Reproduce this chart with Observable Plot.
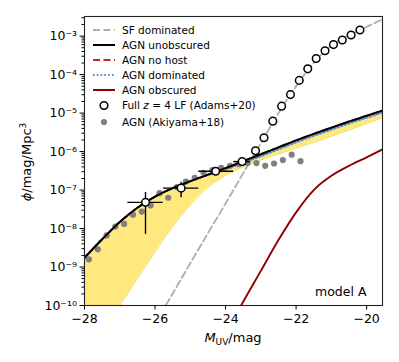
<!DOCTYPE html>
<html><head><meta charset="utf-8">
<script src="https://cdn.jsdelivr.net/npm/d3@7"></script>
<script src="https://cdn.jsdelivr.net/npm/@observablehq/plot@0.6"></script>
<style>body{margin:0;background:#fff}#chart{width:399px;height:362px}</style>
</head><body><div id="chart"></div>
<script>
// ---- tick values ----
const xTicks = [-28, -26, -24, -22, -20];
const yDecades = [-10, -9, -8, -7, -6, -5, -4, -3];

// ---- model curves (log10 phi) ----
const lineM      = [-28, -27.5, -27, -26.5, -26, -25.5, -25, -24.5, -24, -23.5, -23, -22.5, -22, -21.5, -21, -20.5, -20, -19.5];
const unobsLog   = [-8.76, -8.28, -7.83, -7.46, -7.17, -6.95, -6.77, -6.60, -6.43, -6.25, -6.07, -5.89, -5.71, -5.54, -5.38, -5.22, -5.07, -4.92];
const domLog     = [-8.76, -8.28, -7.83, -7.46, -7.17, -6.95, -6.77, -6.61, -6.46, -6.29, -6.12, -5.94, -5.76, -5.59, -5.43, -5.27, -5.12, -4.97];
const bandHiLog  = [-8.76, -8.28, -7.83, -7.46, -7.17, -6.95, -6.78, -6.62, -6.47, -6.30, -6.13, -5.96, -5.79, -5.62, -5.46, -5.30, -5.15, -5.00];
const bandLoLog  = [-11.46, -10.73, -10.0, -9.3, -8.6, -7.95, -7.38, -6.93, -6.62, -6.40, -6.22, -6.06, -5.91, -5.76, -5.60, -5.44, -5.27, -5.10];

const sfM   = [-26.0, -25.7, -25.0, -24.5, -24.0, -23.5, -23.0, -22.5, -22.0, -21.5, -21.0, -20.5, -20.0, -19.5];
const sfLog = [-10.45, -10.0, -8.9, -8.12, -7.35, -6.56, -5.78, -5.0, -4.3, -3.7, -3.25, -2.98, -2.76, -2.54];

const obsM   = [-23.8, -23.56, -23.0, -22.5, -22.0, -21.5, -21.0, -20.5, -20.0, -19.5];
const obsLog = [-10.4, -10.0, -9.1, -8.3, -7.58, -7.0, -6.63, -6.37, -6.15, -5.92];

// ---- observations ----
const adamsM   = [-26.27, -25.26, -24.28, -23.53, -23.15, -22.91, -22.66, -22.41, -22.16, -21.91, -21.67, -21.43, -21.18, -20.94, -20.69, -20.44, -20.19];
const adamsLog = [-7.32, -6.95, -6.51, -6.26, -5.98, -5.64, -5.21, -4.82, -4.52, -4.15, -3.85, -3.58, -3.38, -3.22, -3.10, -2.97, -2.84];
const errM     = [-26.27, -25.26, -24.28, -23.53];
const errLog   = [-7.32, -6.95, -6.51, -6.26];
const errXlo   = [-26.77, -25.76, -24.76, -23.77];
const errXhi   = [-25.77, -24.76, -23.77, -23.29];
const errYlo   = [-8.15, -7.20, -6.56, -6.29];
const errYhi   = [-7.06, -6.80, -6.46, -6.23];

const akiM   = [-27.875, -27.625, -27.375, -27.125, -26.875, -26.625, -26.375, -26.125, -25.875, -25.625, -25.375, -25.125, -24.875, -24.625, -24.375, -24.125, -23.875, -23.625, -23.375, -23.125, -22.875, -22.625, -22.375, -22.125, -21.875];
const akiLog = [-8.80, -8.54, -8.18, -7.95, -7.88, -7.64, -7.56, -7.40, -7.08, -7.20, -6.92, -6.78, -6.68, -6.55, -6.48, -6.42, -6.37, -6.33, -6.30, -6.30, -6.37, -6.31, -6.22, -6.08, -6.25];

// ---- tables ----
const p = v => Math.pow(10, v);
const curves = lineM.map((m, i) => ({M: m, unobs: p(unobsLog[i]), dom: p(domLog[i]), hi: p(bandHiLog[i]), lo: p(bandLoLog[i])}));
const sf = sfM.map((m, i) => ({M: m, phi: p(sfLog[i])}));
const obs = obsM.map((m, i) => ({M: m, phi: p(obsLog[i])}));
const adams = adamsM.map((m, i) => ({M: m, phi: p(adamsLog[i])}));
const errs = errM.map((m, i) => ({M: m, phi: p(errLog[i]), xlo: errXlo[i], xhi: errXhi[i], ylo: p(errYlo[i]), yhi: p(errYhi[i])}));
const aki = akiM.map((m, i) => ({M: m, phi: p(akiLog[i])}));

const supMap = {"-": "⁻", "0": "⁰", "1": "¹", "2": "²", "3": "³", "4": "⁴", "5": "⁵", "6": "⁶", "7": "⁷", "8": "⁸", "9": "⁹"};
const sup = n => String(n).split("").map(c => supMap[c]).join("");
const majorY = yDecades.map(p);
const minorY = [];
for (let e = -11; e <= -3; e++) for (let k = 2; k <= 9; k++) { const v = k * p(e); if (v >= 1e-10 && v <= p(-2.49)) minorY.push(v); }

const C = {sf: "#b0b0b0", unobs: "#000000", nohost: "#c0282d", dom: "#4a8fd0", obs: "#8f0000", band: "#ffe97f", bandEdge: "#f7d32c", aki: "#808080"};

const chart = Plot.plot({
  width: 399, height: 362,
  marginLeft: 84, marginRight: 17, marginTop: 16, marginBottom: 57,
  style: {fontFamily: "DejaVu Sans", fontSize: "12.5px", color: "black", background: "white", overflow: "visible"},
  x: {domain: [-28, -19.55]},
  y: {type: "log", domain: [1e-10, p(-2.49)]},
  marks: [
    Plot.areaY(curves, {x: "M", y1: "lo", y2: "hi", fill: C.band, clip: true, curve: "monotone-x"}),
    Plot.lineY(curves, {x: "M", y: "lo", stroke: C.bandEdge, strokeWidth: 0.9, clip: true, curve: "monotone-x"}),
    Plot.lineY(sf, {x: "M", y: "phi", stroke: C.sf, strokeWidth: 1.9, strokeDasharray: "7,3.5", clip: true, curve: "monotone-x"}),
    Plot.lineY(obs, {x: "M", y: "phi", stroke: C.obs, strokeWidth: 1.9, clip: true, curve: "monotone-x"}),
    Plot.lineY(curves, {x: "M", y: "dom", stroke: C.dom, strokeWidth: 2, strokeDasharray: "1.6,2.2", clip: true, curve: "monotone-x"}),
    Plot.lineY(curves, {x: "M", y: "unobs", stroke: C.nohost, strokeWidth: 1.9, strokeDasharray: "7,3.5", clip: true, curve: "monotone-x"}),
    Plot.dot(aki, {x: "M", y: "phi", r: 3.1, fill: C.aki, stroke: "none"}),
    Plot.lineY(curves, {x: "M", y: "unobs", stroke: C.unobs, strokeWidth: 2, clip: true, curve: "monotone-x"}),
    Plot.ruleY(errs, {y: "phi", x1: "xlo", x2: "xhi", stroke: "black", strokeWidth: 1.4}),
    Plot.ruleX(errs, {x: "M", y1: "ylo", y2: "yhi", stroke: "black", strokeWidth: 1.4}),
    Plot.dot(adams, {x: "M", y: "phi", r: 3.8, fill: "white", stroke: "black", strokeWidth: 1.5}),
    Plot.text(["model A"], {frameAnchor: "bottom-right", dx: -16, dy: -10, fontSize: 12.5, fill: "black"}),
    Plot.frame({stroke: "#222", strokeWidth: 1.1}),
    Plot.axisX({ticks: xTicks, tickSize: 4.5, tickPadding: 4, fontSize: 12.5, label: null,
      tickFormat: d => (d < 0 ? "\u2212" + Math.abs(d) : String(d))}),
    Plot.axisY({ticks: minorY, tickSize: 2.5, tickFormat: () => "", label: null}),
    Plot.axisY({ticks: majorY, tickSize: 4.5, tickPadding: 3, fontSize: 12.5, label: null,
      tickFormat: d => "10" + sup(Math.round(Math.log10(d)))})
  ]
});
document.getElementById("chart").appendChild(chart);

// ---- axis labels & legend (overlay text) ----
const svg = d3.select(chart);
const xl = svg.append("text").attr("x", 233).attr("y", 342).attr("text-anchor", "middle")
  .attr("font-family", "DejaVu Sans").attr("font-size", 13).attr("fill", "black");
xl.append("tspan").attr("font-style", "italic").text("M");
xl.append("tspan").attr("font-size", 9).attr("dy", 3).text("UV");
xl.append("tspan").attr("dy", -3).text("/mag");

const yl = svg.append("text").attr("transform", "translate(31,162) rotate(-90)").attr("text-anchor", "middle")
  .attr("font-family", "DejaVu Sans").attr("font-size", 13).attr("fill", "black");
yl.append("tspan").attr("font-style", "italic").text("ϕ");
yl.append("tspan").text("/mag/Mpc");
yl.append("tspan").attr("font-size", 9).attr("dy", -5).text("3");

const legendItems = [
  {label: "SF dominated", type: "line", stroke: C.sf, dash: "7,3.5"},
  {label: "AGN unobscured", type: "line", stroke: C.unobs, dash: null},
  {label: "AGN no host", type: "line", stroke: C.nohost, dash: "7,3.5"},
  {label: "AGN dominated", type: "line", stroke: C.dom, dash: "1.6,2.2"},
  {label: "AGN obscured", type: "line", stroke: C.obs, dash: null},
  {label: "Full z = 4 LF (Adams+20)", type: "open"},
  {label: "AGN (Akiyama+18)", type: "dot"}
];
const rowY = [30, 45, 60, 75, 90, 105.5, 122];
const lg = svg.append("g").attr("font-family", "DejaVu Sans").attr("font-size", 10.5).attr("text-anchor", "start");
legendItems.forEach((it, i) => {
  const y = rowY[i];
  if (it.type === "line") {
    lg.append("line").attr("x1", 93).attr("x2", 115).attr("y1", y).attr("y2", y)
      .attr("stroke", it.stroke).attr("stroke-width", 2).attr("stroke-dasharray", it.dash);
  } else if (it.type === "open") {
    lg.append("circle").attr("cx", 104).attr("cy", y).attr("r", 3.8).attr("fill", "white").attr("stroke", "black").attr("stroke-width", 1.5);
  } else {
    lg.append("circle").attr("cx", 104).attr("cy", y).attr("r", 3.1).attr("fill", C.aki);
  }
  const t = lg.append("text").attr("x", 122).attr("y", y).attr("dy", "0.35em").attr("fill", "black").attr("text-anchor", "start");
  if (it.type === "open") {
    t.append("tspan").text("Full ");
    t.append("tspan").attr("font-style", "italic").text("z");
    t.append("tspan").text(" = 4 LF (Adams+20)");
  } else t.text(it.label);
});
</script>
</body></html>
